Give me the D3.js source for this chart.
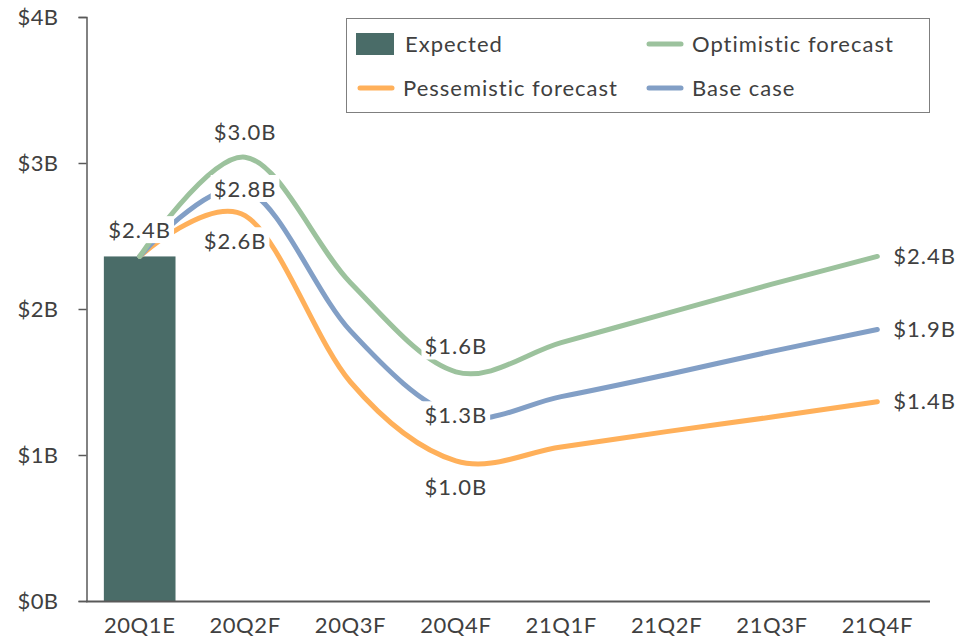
<!DOCTYPE html>
<html><head><meta charset="utf-8">
<script src="https://cdn.jsdelivr.net/npm/d3@7"></script>
<style>body{margin:0;background:#fff}svg{display:block}text{font-family:"Gill Sans","Lato",sans-serif;fill:#404040}</style>
</head><body><svg id="c" width="965" height="639"></svg>
<script>
const categories = ["20Q1E","20Q2F","20Q3F","20Q4F","21Q1F","21Q2F","21Q3F","21Q4F"];
const expected = [2.36, null, null, null, null, null, null, null];
const optimistic = [2.36, 3.04, 2.18, 1.57, 1.77, 1.97, 2.17, 2.36];
const baseCase = [2.36, 2.82, 1.85, 1.27, 1.40, 1.55, 1.71, 1.86];
const pessimistic = [2.36, 2.64, 1.50, 0.96, 1.055, 1.16, 1.26, 1.365];
const yTicks = [0, 1, 2, 3, 4];
const fmtLabel = v => "$" + d3.format(".1f")(v) + "B";

const svg = d3.select("#c");
const x = d3.scaleBand().domain(categories).range([87, 930]);
const y = d3.scaleLinear().domain([0, 4]).range([601, 17]);
const cx = c => x(c) + x.bandwidth() / 2;
const FONT = '"Gill Sans","Lato",sans-serif';

const colors = {bar:"#4a6c68", opt:"#9cc29d", base:"#829fc6", pess:"#ffb05a"};

// bar
const barW = x.bandwidth() * 0.68;
svg.append("g").selectAll("rect").data(categories.map((c,i)=>({c, v:expected[i]})).filter(d=>d.v!=null))
  .join("rect").attr("x", d=>cx(d.c)-barW/2).attr("width", barW)
  .attr("y", d=>y(d.v)).attr("height", d=>y(0)-y(d.v)).attr("fill", colors.bar);

// lines
const series = [
  {key:"pess", values:pessimistic, pos:"below"},
  {key:"base", values:baseCase, pos:"center"},
  {key:"opt", values:optimistic, pos:"above"}
];
const line = d3.line().x((d,i)=>cx(categories[i])).y(d=>y(d)).curve(d3.curveCardinal.tension(0));
svg.append("g").selectAll("path").data(series).join("path")
  .attr("d", s=>line(s.values)).attr("fill","none")
  .attr("stroke", s=>colors[s.key]).attr("stroke-width",5).attr("stroke-linecap","round");

// axes
const yAxis = svg.append("g").attr("transform","translate(86.5,0)")
  .call(d3.axisLeft(y).tickValues(yTicks).tickFormat(d=>"$"+d+"B").tickSize(8).tickSizeOuter(8).tickPadding(20));
yAxis.selectAll("path,line").attr("stroke","#595959").attr("stroke-width",1.5);
yAxis.selectAll("text").attr("font-size",22).attr("fill","#404040").style("font-family",FONT).style("letter-spacing","0.4px");

const xAxis = svg.append("g").attr("transform","translate(0,601)")
  .call(d3.axisBottom(x).tickSize(0).tickSizeOuter(0).tickPadding(16));
xAxis.select("path").attr("d","M86,0.5H930").attr("stroke","#595959").attr("stroke-width",2);
xAxis.selectAll("text").attr("font-size",22).attr("fill","#404040").style("font-family",FONT).style("letter-spacing","0.6px");

// data labels
const labels = [];
labels.push({x: cx(categories[0]), y: y(expected[0]) - 26, t: fmtLabel(expected[0]), anchor:"middle"});
[1,3].forEach(i=>{
  series.forEach(s=>{
    const v = s.values[i];
    let yy = y(v), xx = cx(categories[i]);
    if (s.pos==="above") yy -= 25;
    else if (s.pos==="below") yy += 26;
    if (s.key==="pess" && i===1) xx -= 10;
    labels.push({x:xx, y:yy, t:fmtLabel(v), anchor:"middle"});
  });
});
series.forEach(s=>{
  const i = categories.length-1;
  labels.push({x: cx(categories[i]) + 16, y: y(s.values[i]), t: fmtLabel(s.values[i]), anchor:"start"});
});
const lg = svg.append("g");
labels.forEach(l=>{
  const g = lg.append("g");
  const t = g.append("text").attr("x",l.x).attr("y",l.y).attr("dy","0.35em")
    .attr("text-anchor",l.anchor).attr("font-size",22).style("letter-spacing","1px").text(l.t);
  const b = t.node().getBBox();
  g.insert("rect","text").attr("x",b.x-3).attr("y",b.y).attr("width",b.width+6).attr("height",b.height).attr("fill","#fff");
});

// legend
const leg = svg.append("g");
leg.append("rect").attr("x",346.5).attr("y",18.5).attr("width",583).attr("height",94)
  .attr("fill","#fff").attr("stroke","#7f7f7f").attr("stroke-width",1);
const legItems = [
  {t:"Expected", type:"rect", c:colors.bar, x:356, y:44},
  {t:"Optimistic forecast", type:"line", c:colors.opt, x:647, y:44},
  {t:"Pessemistic forecast", type:"line", c:colors.pess, x:358, y:88},
  {t:"Base case", type:"line", c:colors.base, x:647, y:88}
];
legItems.forEach(d=>{
  if (d.type==="rect") leg.append("rect").attr("x",d.x).attr("y",d.y-11).attr("width",38).attr("height",22).attr("fill",d.c);
  else leg.append("line").attr("x1",d.x+2).attr("x2",d.x+34).attr("y1",d.y).attr("y2",d.y)
    .attr("stroke",d.c).attr("stroke-width",5).attr("stroke-linecap","round");
  leg.append("text").attr("x", d.type==="rect"? d.x+49 : d.x+45).attr("y",d.y).attr("dy","0.35em")
    .attr("font-size",22).style("letter-spacing","1px").text(d.t);
});
</script></body></html>
